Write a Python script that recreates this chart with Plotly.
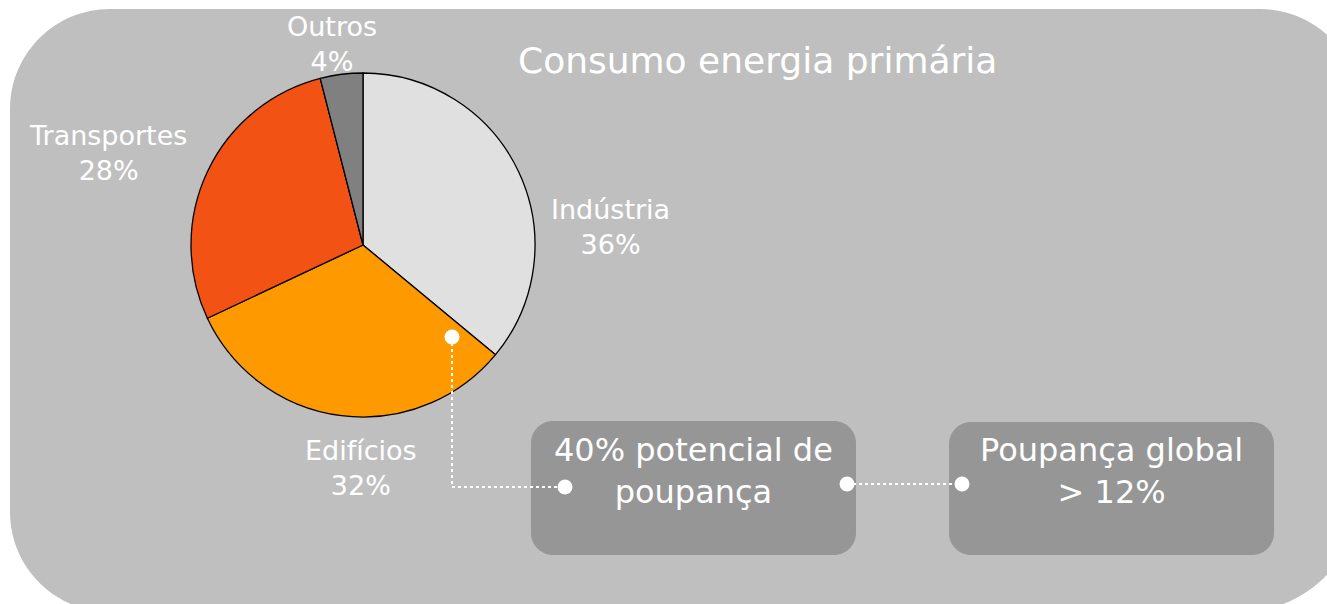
import plotly.graph_objects as go

# ---- data ----
categories = ["Indústria", "Edifícios", "Transportes", "Outros"]
shares = [36, 32, 28, 4]
title_text = "Consumo energia primária"
box_texts = ["40% potencial de<br>poupança", "Poupança global<br>> 12%"]

# ---- styling ----
slice_colors = ["#e0e0e0", "#ff9900", "#f25213", "#808080"]
W, H = 1327, 604
FONT = "DejaVu Sans, Verdana, sans-serif"
BG = "#bfbfbf"
BOX = "#969696"


def rrect(x0, y0, x1, y1, r_tl, r_tr, r_br, r_bl):
    k = 0.5523
    p = f"M {x0 + r_tl},{y0} L {x1 - r_tr},{y0} "
    p += f"C {x1 - r_tr + k * r_tr},{y0} {x1},{y0 + r_tr - k * r_tr} {x1},{y0 + r_tr} "
    p += f"L {x1},{y1 - r_br} "
    p += f"C {x1},{y1 - r_br + k * r_br} {x1 - r_br + k * r_br},{y1} {x1 - r_br},{y1} "
    p += f"L {x0 + r_bl},{y1} "
    p += f"C {x0 + r_bl - k * r_bl},{y1} {x0},{y1 - r_bl + k * r_bl} {x0},{y1 - r_bl} "
    p += f"L {x0},{y0 + r_tl} "
    p += f"C {x0},{y0 + r_tl - k * r_tl} {x0 + r_tl - k * r_tl},{y0} {x0 + r_tl},{y0} Z"
    return p


fig = go.Figure()

# pie (center ~ (363,245), radius ~172 px)
cx, cy, r = 363, 245, 172
fig.add_trace(go.Pie(
    labels=categories,
    values=shares,
    sort=False,
    direction="clockwise",
    rotation=0,
    marker=dict(colors=slice_colors, line=dict(color="black", width=1.3)),
    textinfo="none",
    hoverinfo="label+percent",
    showlegend=False,
    domain=dict(x=[(cx - r) / W, (cx + r) / W], y=[1 - (cy + r) / H, 1 - (cy - r) / H]),
))

# invisible trace to keep the cartesian axes active for shapes/annotations
fig.add_trace(go.Scatter(x=[0, W], y=[0, H], mode="markers", marker=dict(opacity=0),
                         hoverinfo="skip", showlegend=False))

shapes = [
    dict(type="path", path=rrect(10, 9, 1360, 612, 100, 100, 120, 100),
         xref="x", yref="y", fillcolor=BG, line=dict(width=0), layer="below"),
    dict(type="path", path=rrect(531, 421, 856, 555, 22, 22, 22, 22),
         xref="x", yref="y", fillcolor=BOX, line=dict(width=0), layer="below"),
    dict(type="path", path=rrect(949, 422, 1274, 555, 22, 22, 22, 22),
         xref="x", yref="y", fillcolor=BOX, line=dict(width=0), layer="below"),
]

# connectors (drawn above the pie)
connectors = [[(452, 337), (452, 487), (565, 487)], [(847, 484), (962, 484)]]
for pts in connectors:
    path = "M " + " L ".join(f"{x},{y}" for x, y in pts)
    shapes.append(dict(type="path", path=path, xref="x", yref="y",
                       line=dict(color="white", width=2, dash="dot"), layer="above"))
dots = [(452, 337), (565, 487), (847, 484), (962, 484)]
rd = 7.5
for x, y in dots:
    shapes.append(dict(type="circle", x0=x - rd, x1=x + rd, y0=y - rd, y1=y + rd,
                       xref="x", yref="y", fillcolor="white", line=dict(width=0),
                       layer="above"))

label_pos = {"Indústria": (610, 227), "Edifícios": (361, 468),
             "Transportes": (108, 153), "Outros": (332, 44)}

annotations = []
for c, s in zip(categories, shares):
    x, y = label_pos[c]
    annotations.append(dict(x=x, y=y, xref="x", yref="y", text=f"{c}<br>{s}%",
                            showarrow=False, xanchor="center", yanchor="middle",
                            font=dict(family=FONT, size=27, color="white")))
annotations.append(dict(x=757, y=60, xref="x", yref="y", text=title_text, showarrow=False,
                        xanchor="center", yanchor="middle",
                        font=dict(family=FONT, size=36, color="white")))
for txt, x in zip(box_texts, [693, 1111]):
    annotations.append(dict(x=x, y=471, xref="x", yref="y", text=txt, showarrow=False,
                            xanchor="center", yanchor="middle",
                            font=dict(family=FONT, size=32, color="white")))

fig.update_layout(
    width=W, height=H,
    margin=dict(l=0, r=0, t=0, b=0),
    paper_bgcolor="white", plot_bgcolor="rgba(0,0,0,0)",
    xaxis=dict(range=[0, W], visible=False, fixedrange=True),
    yaxis=dict(range=[H, 0], visible=False, fixedrange=True),
    shapes=shapes,
    annotations=annotations,
)

fig.write_html("out.html", config={"displayModeBar": False},
               post_script="document.body.style.margin='0';")
